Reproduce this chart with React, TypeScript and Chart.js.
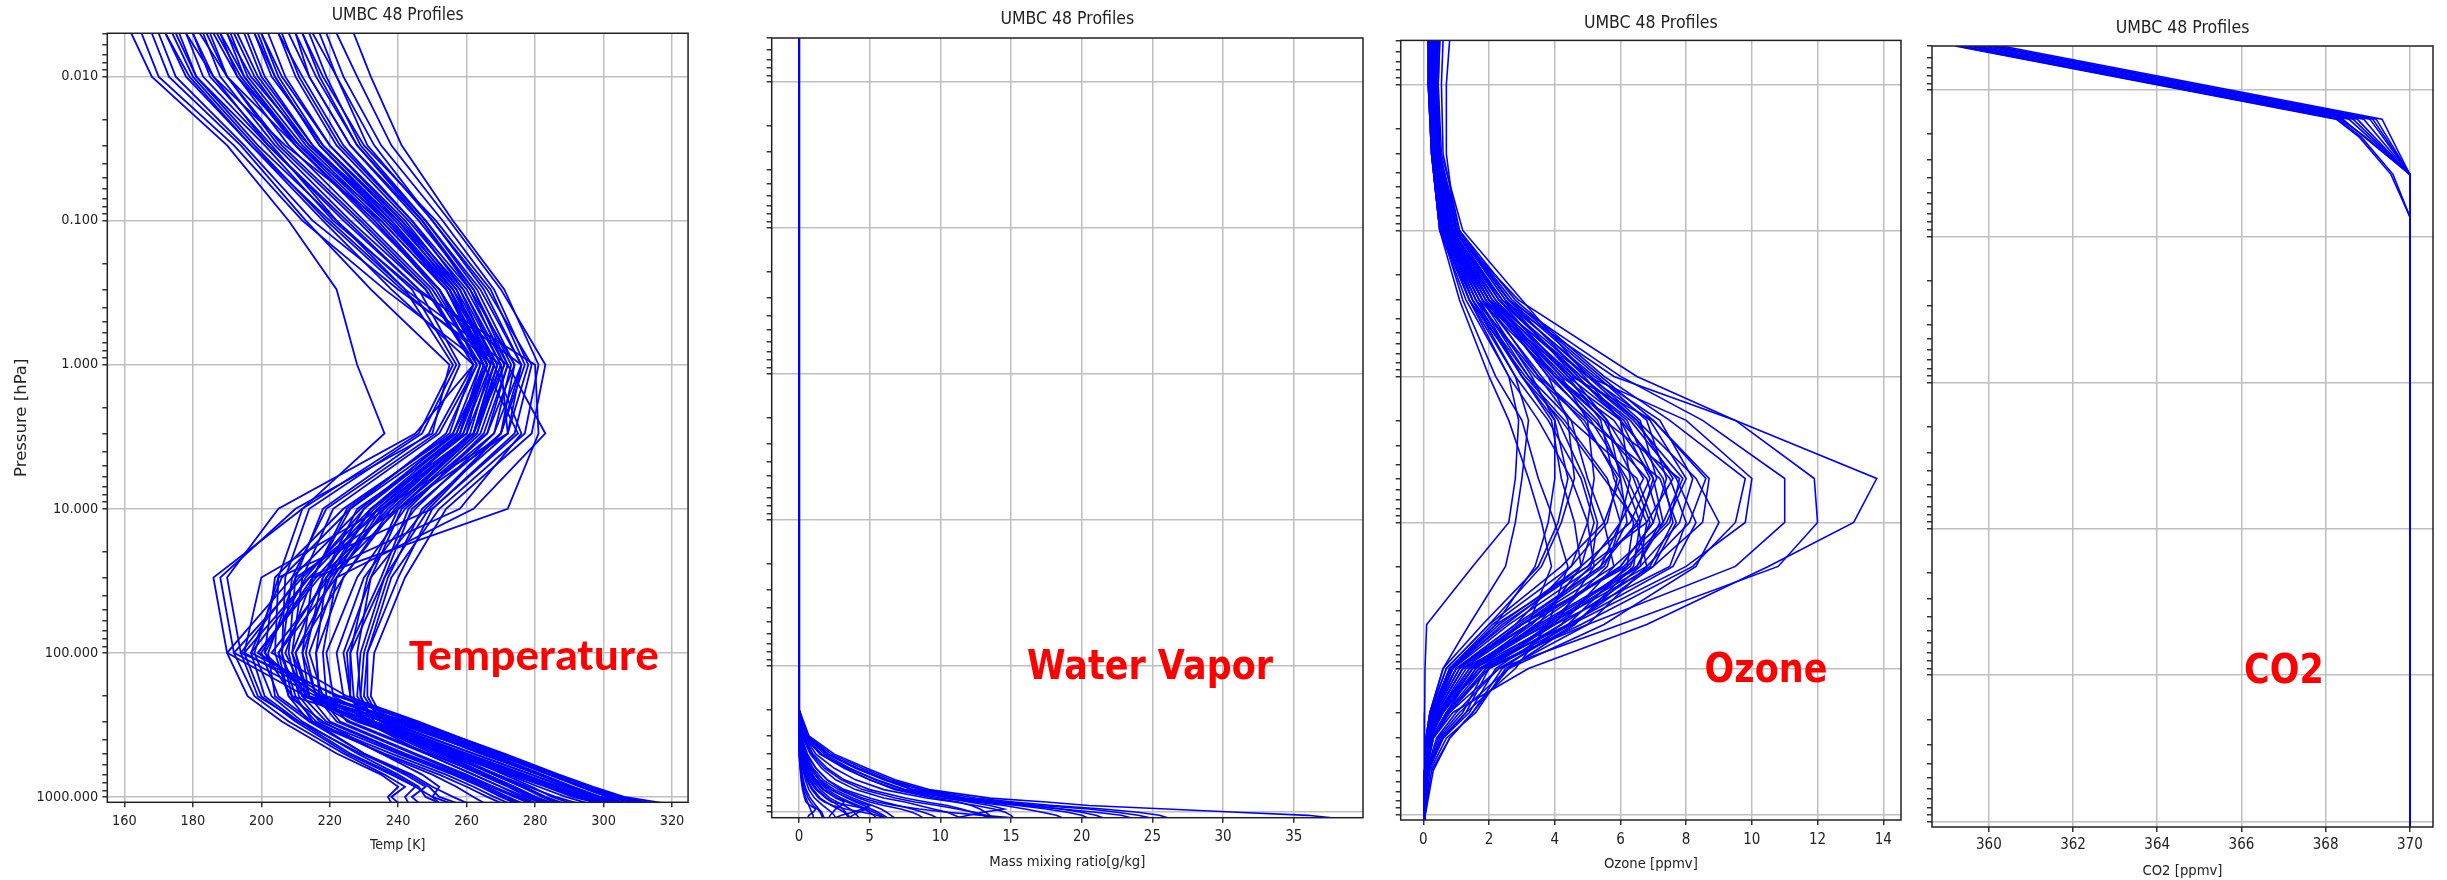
import React, { useEffect, useRef } from 'react';
import { Chart, registerables } from 'chart.js';

Chart.register(...registerables);

// ---------------- DATA ----------------
const chartTitle = 'UMBC 48 Profiles';
const panelNames = ['Temperature', 'Water Vapor', 'Ozone', 'CO2'];
const xAxisLabels = ['Temp [K]', 'Mass mixing ratio[g/kg]', 'Ozone [ppmv]', 'CO2 [ppmv]'];
const yAxisLabel = 'Pressure [hPa]';

const pressureMin = 0.005;
const pressureMax = 1090;
const majorPressureTicks = [0.01, 0.1, 1, 10, 100, 1000];
const majorPressureLabels = ['0.010', '0.100', '1.000', '10.000', '100.000', '1000.000'];
const minorMultipliers = [1, 2, 3, 4, 5, 6, 7, 8, 9];
const tickDecades = [-3, -2, -1, 0, 1, 2, 3];

// Temperature [K]
const tempLevels = [0.005, 0.01, 0.03, 0.1, 0.3, 1, 3, 10, 30, 100, 200, 300, 500, 700, 850, 1000, 1100];
const tempProfiles = [
  [195, 200, 215, 238, 255, 266, 258, 232, 212, 192, 216, 242, 268, 284, 293, 301, 309],
  [182, 190, 210, 233, 252, 263, 254, 226, 206, 197, 222, 244, 270, 285, 294, 302, 310],
  [200, 206, 220, 242, 258, 268, 262, 238, 217, 199, 219, 241, 267, 282, 291, 299, 306],
  [178, 186, 207, 235, 254, 265, 257, 229, 209, 190, 213, 238, 265, 281, 290, 298, 305],
  [210, 214, 226, 247, 261, 271, 264, 240, 220, 203, 225, 246, 270, 286, 296, 305, 314],
  [190, 197, 214, 240, 256, 267, 259, 233, 214, 195, 218, 240, 268, 285, 295, 304, 313],
  [198, 203, 218, 241, 257, 266, 256, 224, 204, 201, 214, 239, 266, 282, 291, 299, 307],
  [186, 193, 211, 237, 255, 265, 258, 236, 211, 194, 223, 245, 271, 287, 297, 306, 317],
  [200, 205, 218, 240, 258, 270, 262, 235, 222, 214, 218, 232, 258, 275, 285, 293, 300],
  [192, 198, 213, 236, 255, 268, 260, 228, 218, 209, 214, 229, 256, 273, 283, 291, 298],
  [205, 210, 222, 243, 260, 272, 266, 242, 228, 219, 221, 235, 260, 277, 287, 295, 302],
  [212, 217, 228, 247, 262, 273, 268, 245, 230, 222, 224, 237, 262, 279, 289, 297, 304],
  [188, 195, 211, 234, 252, 266, 257, 226, 215, 207, 213, 228, 255, 272, 281, 289, 295],
  [198, 204, 217, 238, 256, 269, 263, 238, 224, 216, 217, 233, 259, 276, 286, 294, 301],
  [217, 222, 231, 250, 265, 276, 270, 248, 232, 224, 226, 240, 264, 281, 290, 296, 303],
  [202, 207, 220, 241, 259, 271, 262, 232, 220, 212, 216, 231, 257, 274, 284, 292, 299],
  [185, 190, 205, 228, 248, 262, 255, 225, 215, 212, 214, 220, 242, 258, 266, 272, 276],
  [180, 186, 202, 225, 246, 258, 249, 218, 210, 208, 211, 217, 240, 256, 264, 270, 274],
  [190, 195, 210, 232, 252, 265, 260, 232, 219, 216, 217, 223, 245, 260, 268, 275, 279],
  [175, 181, 199, 222, 244, 257, 247, 214, 207, 206, 210, 215, 238, 254, 262, 268, 272],
  [196, 201, 215, 237, 256, 268, 262, 236, 222, 218, 219, 225, 248, 262, 270, 277, 282],
  [183, 188, 204, 226, 248, 263, 252, 221, 212, 209, 212, 219, 241, 257, 265, 271, 275],
  [188, 193, 208, 230, 250, 264, 258, 230, 218, 213, 216, 222, 244, 259, 267, 274, 278],
  [172, 179, 197, 220, 242, 256, 246, 212, 205, 204, 208, 214, 236, 252, 260, 266, 270],
  [170, 175, 195, 215, 240, 270, 272, 235, 200, 195, 200, 210, 225, 238, 245, 250, 255],
  [165, 170, 192, 212, 236, 265, 275, 250, 205, 198, 203, 212, 228, 240, 246, 248, 252],
  [176, 181, 201, 221, 245, 280, 281, 272, 215, 200, 205, 215, 230, 242, 248, 244, 246],
  [168, 173, 194, 213, 232, 255, 250, 210, 188, 192, 198, 208, 224, 236, 242, 238, 240],
  [172, 178, 197, 218, 238, 262, 245, 205, 190, 194, 199, 211, 226, 239, 245, 242, 243],
  [180, 185, 203, 222, 242, 272, 283, 262, 222, 205, 208, 218, 235, 247, 252, 250, 252],
  [162, 168, 190, 208, 222, 228, 236, 212, 186, 190, 196, 206, 222, 235, 240, 237, 238],
  [178, 183, 202, 224, 246, 276, 272, 240, 210, 202, 204, 214, 230, 244, 250, 256, 260],
  [210, 216, 228, 248, 264, 276, 268, 241, 232, 228, 229, 232, 252, 266, 274, 280, 284],
  [215, 222, 233, 250, 266, 279, 274, 250, 240, 231, 230, 235, 254, 268, 276, 282, 286],
  [222, 228, 238, 255, 270, 283, 279, 254, 242, 233, 232, 236, 257, 271, 279, 285, 290],
  [205, 212, 224, 244, 261, 274, 266, 240, 231, 226, 227, 230, 250, 264, 272, 278, 282],
  [212, 218, 230, 251, 267, 277, 270, 244, 236, 229, 228, 233, 253, 266, 274, 280, 284],
  [227, 232, 241, 256, 271, 281, 277, 252, 238, 231, 231, 235, 255, 269, 277, 283, 287],
  [208, 214, 226, 246, 262, 272, 265, 243, 235, 225, 226, 230, 248, 262, 270, 276, 280],
  [219, 224, 235, 253, 268, 278, 272, 247, 237, 230, 229, 233, 254, 268, 276, 283, 288],
  [193, 199, 214, 237, 254, 267, 261, 237, 219, 205, 212, 236, 262, 279, 288, 296, 303],
  [187, 194, 210, 233, 251, 264, 256, 230, 213, 201, 209, 233, 260, 277, 286, 293, 299],
  [206, 211, 223, 244, 259, 270, 263, 239, 224, 210, 214, 230, 253, 269, 278, 286, 292],
  [174, 180, 198, 219, 241, 268, 276, 258, 214, 197, 201, 211, 229, 243, 249, 252, 257],
  [199, 204, 217, 239, 257, 269, 262, 234, 221, 210, 213, 226, 249, 265, 273, 280, 285],
  [184, 190, 206, 229, 249, 262, 251, 219, 209, 206, 209, 216, 235, 250, 257, 262, 265],
  [214, 219, 229, 248, 263, 274, 270, 249, 236, 226, 226, 231, 251, 265, 273, 279, 283],
  [191, 196, 212, 235, 254, 266, 259, 234, 216, 199, 217, 243, 269, 284, 294, 303, 311],
];

// Water vapour mass mixing ratio [g/kg]
const wvLevels = [0.005, 50, 100, 200, 300, 400, 500, 600, 700, 800, 850, 900, 950, 1000, 1050, 1100];
const wvProfiles = [
  [0.003, 0.003, 0.004, 0.06, 0.7, 2.5, 4.8, 6.8, 9.2, 13.5, 17.5, 20.5, 26, 31, 36, 38],
  [0.003, 0.003, 0.004, 0.05, 0.6, 2.3, 4.5, 6.5, 8.8, 12.5, 15.2, 18, 21.5, 24, 25.5, 26.2],
  [0.003, 0.003, 0.004, 0.04, 0.5, 2.0, 4.0, 6.0, 8.0, 11.5, 14, 16.5, 18.5, 20, 21, 21.6],
  [0.003, 0.003, 0.004, 0.04, 0.4, 1.5, 3.2, 5.0, 7.0, 10, 12.5, 14.5, 16, 17.2, 18.2, 18.7],
  [0.003, 0.003, 0.004, 0.03, 0.35, 1.2, 2.5, 4.0, 6.0, 9.0, 11, 12.5, 13.8, 14.6, 15, 15.2],
  [0.003, 0.003, 0.004, 0.03, 0.3, 1.0, 2.0, 3.2, 5.0, 7.5, 9.0, 10.5, 11.5, 12.3, 13, 13.5],
  [0.002, 0.002, 0.003, 0.02, 0.2, 0.8, 1.6, 2.6, 4.0, 6.0, 7.5, 8.5, 9.5, 10.5, 11, 11.5],
  [0.002, 0.002, 0.003, 0.02, 0.15, 0.6, 1.2, 2.0, 3.2, 5.0, 6.0, 7.0, 8.0, 8.8, 9.4, 9.8],
  [0.002, 0.002, 0.003, 0.01, 0.1, 0.4, 0.9, 1.5, 2.5, 3.8, 4.5, 5.2, 5.8, 6.2, 6.5, 6.8],
  [0.002, 0.002, 0.003, 0.01, 0.08, 0.3, 0.7, 1.2, 2.0, 3.0, 3.6, 4.2, 4.8, 5.3, 5.8, 6.1],
  [0.002, 0.002, 0.003, 0.01, 0.06, 0.2, 0.5, 0.9, 1.5, 2.2, 2.7, 3.2, 3.6, 3.9, 4.1, 4.3],
  [0.002, 0.002, 0.003, 0.008, 0.05, 0.15, 0.35, 0.6, 1.0, 1.5, 1.9, 2.3, 2.8, 3.2, 3.5, 3.6],
  [0.002, 0.002, 0.003, 0.006, 0.04, 0.1, 0.25, 0.45, 0.7, 1.1, 1.4, 1.7, 2.0, 2.3, 2.5, 2.6],
  [0.002, 0.002, 0.003, 0.005, 0.03, 0.08, 0.18, 0.3, 0.5, 0.8, 1.0, 1.2, 1.4, 1.6, 1.7, 1.8],
  [0.002, 0.002, 0.003, 0.004, 0.02, 0.05, 0.1, 0.2, 0.3, 0.5, 0.6, 0.7, 0.8, 0.9, 1.0, 1.0],
  [0.002, 0.002, 0.003, 0.003, 0.015, 0.04, 0.08, 0.15, 0.25, 0.4, 0.5, 0.8, 1.2, 1.0, 0.7, 0.6],
  [0.002, 0.002, 0.003, 0.006, 0.05, 0.2, 0.6, 1.2, 2.2, 3.5, 4.2, 5.0, 4.5, 3.8, 3.0, 2.5],
  [0.002, 0.002, 0.003, 0.01, 0.1, 0.5, 1.2, 2.0, 3.0, 4.5, 5.5, 6.8, 8.5, 10.5, 13, 15.5],
  [0.003, 0.003, 0.004, 0.02, 0.3, 1.5, 3.5, 5.5, 7.5, 10.5, 12, 13.5, 14.5, 13, 12, 11],
  [0.003, 0.003, 0.004, 0.03, 0.45, 2.0, 4.2, 6.2, 8.6, 11.8, 14.5, 17, 20.5, 22.5, 24, 25],
  [0.002, 0.002, 0.003, 0.008, 0.07, 0.25, 0.6, 1.0, 1.7, 2.6, 3.2, 3.0, 2.6, 2.4, 2.2, 2.1],
  [0.002, 0.002, 0.003, 0.005, 0.04, 0.12, 0.3, 0.55, 0.9, 1.4, 1.8, 2.4, 3.3, 4.5, 5.5, 6.2],
  [0.003, 0.003, 0.004, 0.04, 0.45, 1.8, 3.6, 5.4, 7.4, 10.8, 13, 15.5, 17.5, 19, 20, 20.5],
  [0.002, 0.002, 0.003, 0.015, 0.12, 0.45, 1.0, 1.7, 2.8, 4.2, 5.0, 6.0, 7.2, 8.0, 8.5, 8.8],
  [0.002, 0.002, 0.003, 0.008, 0.06, 0.2, 0.45, 0.8, 1.3, 2.0, 2.4, 2.8, 3.1, 3.3, 3.4, 3.5],
  [0.003, 0.003, 0.004, 0.025, 0.25, 0.9, 1.8, 3.0, 4.5, 6.8, 8.2, 9.8, 11.2, 12.4, 13.2, 13.8],
  [0.002, 0.002, 0.003, 0.004, 0.025, 0.07, 0.15, 0.25, 0.4, 0.65, 0.8, 1.0, 1.3, 1.5, 1.6, 1.7],
  [0.003, 0.003, 0.004, 0.035, 0.4, 1.6, 3.3, 5.0, 6.8, 9.5, 11.3, 12.2, 12.8, 13.2, 13.5, 13.7],
  [0.002, 0.002, 0.003, 0.012, 0.1, 0.35, 0.8, 1.4, 2.3, 3.4, 4.0, 4.6, 5.1, 5.6, 6.0, 6.3],
  [0.002, 0.002, 0.003, 0.006, 0.05, 0.18, 0.4, 0.7, 1.2, 1.9, 2.3, 3.6, 4.8, 4.2, 3.8, 3.5],
  [0.003, 0.003, 0.004, 0.045, 0.55, 2.1, 4.1, 6.1, 8.1, 11.2, 13.5, 15.8, 18.6, 21.0, 22.8, 23.6],
  [0.002, 0.002, 0.003, 0.01, 0.09, 0.3, 0.65, 1.1, 1.8, 2.8, 3.4, 4.0, 4.6, 5.0, 5.3, 5.5],
];

// Ozone [ppmv]
const o3Levels = [0.005, 0.01, 0.03, 0.1, 0.3, 1, 2, 5, 10, 20, 50, 100, 200, 300, 500, 1000, 1100];
const o3Profiles = [
  [0.3, 0.3, 0.4, 0.9, 2.9, 6.5, 9.5, 13.8, 13.1, 10.5, 6.8, 3.2, 0.9, 0.3, 0.1, 0.04, 0.03],
  [0.25, 0.25, 0.35, 0.8, 2.4, 5.8, 9.5, 11.9, 12.0, 10.8, 6.0, 2.3, 0.8, 0.3, 0.08, 0.04, 0.03],
  [0.35, 0.3, 0.45, 1.0, 2.6, 6.0, 8.5, 11.0, 11.0, 9.5, 5.0, 1.8, 0.5, 0.15, 0.06, 0.03, 0.03],
  [0.2, 0.2, 0.3, 0.7, 2.0, 5.0, 8.0, 10.0, 9.8, 8.0, 4.5, 1.5, 0.5, 0.15, 0.06, 0.03, 0.03],
  [0.4, 0.35, 0.5, 1.1, 2.8, 5.5, 7.5, 9.8, 9.5, 8.2, 4.8, 2.0, 0.7, 0.25, 0.08, 0.04, 0.03],
  [0.15, 0.2, 0.3, 0.6, 1.8, 4.5, 7.0, 8.7, 8.5, 7.0, 3.8, 1.2, 0.4, 0.12, 0.05, 0.03, 0.03],
  [0.5, 0.45, 0.55, 1.2, 3.0, 5.0, 6.5, 8.3, 9.0, 8.3, 5.5, 2.6, 1.5, 0.8, 0.25, 0.05, 0.04],
  [0.3, 0.3, 0.4, 0.8, 2.2, 4.0, 5.5, 7.8, 7.5, 6.2, 3.0, 1.0, 0.3, 0.1, 0.05, 0.03, 0.03],
  [0.2, 0.2, 0.3, 0.6, 1.6, 3.5, 5.0, 7.2, 7.7, 7.0, 4.5, 2.0, 0.8, 0.3, 0.08, 0.04, 0.03],
  [0.25, 0.25, 0.35, 0.7, 1.9, 4.2, 6.0, 7.5, 8.0, 7.5, 4.0, 1.5, 0.5, 0.18, 0.06, 0.03, 0.03],
  [0.45, 0.4, 0.5, 1.0, 2.5, 4.6, 6.2, 7.0, 7.3, 6.5, 3.5, 1.3, 0.45, 0.15, 0.06, 0.03, 0.03],
  [0.3, 0.25, 0.35, 0.7, 2.0, 3.8, 5.2, 6.8, 7.2, 6.5, 4.0, 1.8, 0.7, 0.25, 0.07, 0.04, 0.03],
  [0.15, 0.15, 0.25, 0.5, 1.5, 3.2, 4.5, 6.5, 7.0, 6.0, 3.2, 1.0, 0.35, 0.12, 0.05, 0.03, 0.02],
  [0.35, 0.3, 0.4, 0.9, 2.3, 4.8, 6.5, 7.6, 6.8, 5.0, 2.2, 0.8, 0.25, 0.1, 0.05, 0.03, 0.03],
  [0.2, 0.2, 0.3, 0.6, 1.7, 3.0, 4.2, 5.5, 6.5, 6.8, 5.0, 2.5, 1.6, 0.7, 0.2, 0.05, 0.04],
  [0.25, 0.25, 0.35, 0.7, 1.8, 3.6, 4.8, 6.0, 6.2, 5.5, 3.0, 1.2, 0.4, 0.15, 0.06, 0.03, 0.03],
  [0.4, 0.35, 0.45, 0.9, 2.1, 4.2, 5.0, 5.2, 5.0, 4.5, 2.8, 1.0, 0.3, 0.1, 0.05, 0.03, 0.02],
  [0.3, 0.3, 0.4, 0.8, 1.9, 3.5, 4.5, 5.0, 5.5, 5.8, 4.2, 2.2, 1.4, 0.6, 0.15, 0.04, 0.03],
  [0.2, 0.2, 0.3, 0.55, 1.4, 2.8, 3.8, 4.8, 5.2, 4.8, 2.5, 0.8, 0.25, 0.1, 0.05, 0.03, 0.02],
  [0.15, 0.15, 0.25, 0.5, 1.3, 2.6, 3.5, 4.5, 5.0, 5.2, 4.0, 1.9, 1.2, 0.5, 0.12, 0.04, 0.03],
  [0.3, 0.3, 0.4, 0.8, 2.0, 3.8, 4.4, 4.6, 4.2, 3.6, 2.0, 0.7, 0.2, 0.08, 0.04, 0.03, 0.02],
  [0.25, 0.25, 0.35, 0.65, 1.6, 3.0, 3.9, 4.2, 4.6, 4.8, 3.5, 1.5, 0.6, 0.2, 0.06, 0.03, 0.03],
  [0.35, 0.3, 0.4, 0.8, 1.8, 3.3, 4.0, 4.0, 3.8, 3.4, 2.2, 0.9, 0.3, 0.1, 0.05, 0.03, 0.02],
  [0.2, 0.2, 0.3, 0.55, 1.2, 2.2, 3.0, 3.5, 4.0, 4.4, 3.8, 2.0, 1.3, 0.55, 0.14, 0.04, 0.03],
  [0.3, 0.25, 0.35, 0.7, 1.5, 2.8, 3.2, 3.0, 2.8, 2.5, 1.4, 0.6, 0.2, 0.08, 0.04, 0.03, 0.02],
  [0.2, 0.2, 0.3, 0.6, 1.4, 2.6, 2.9, 2.8, 2.6, 1.5, 0.1, 0.05, 0.04, 0.04, 0.03, 0.03, 0.02],
  [0.15, 0.15, 0.25, 0.5, 1.1, 2.0, 2.6, 3.2, 3.6, 3.9, 3.2, 1.6, 0.7, 0.25, 0.07, 0.04, 0.03],
  [0.4, 0.35, 0.45, 0.9, 2.2, 4.5, 5.6, 6.0, 5.5, 4.2, 2.0, 0.7, 0.22, 0.09, 0.05, 0.03, 0.02],
  [0.25, 0.25, 0.35, 0.75, 2.1, 4.8, 6.4, 7.9, 7.3, 5.8, 3.0, 1.1, 0.35, 0.12, 0.05, 0.03, 0.03],
  [0.3, 0.3, 0.4, 0.85, 2.4, 5.2, 7.2, 8.2, 7.8, 6.6, 3.6, 1.4, 0.45, 0.15, 0.06, 0.03, 0.03],
  [0.2, 0.2, 0.3, 0.6, 1.7, 4.0, 5.8, 7.0, 6.6, 5.2, 2.6, 0.9, 0.3, 0.1, 0.05, 0.03, 0.02],
  [0.45, 0.4, 0.5, 1.0, 2.6, 5.3, 6.8, 7.4, 7.0, 6.0, 3.4, 1.6, 0.6, 0.2, 0.06, 0.03, 0.03],
  [0.35, 0.3, 0.4, 0.8, 2.0, 4.3, 5.6, 6.7, 6.0, 5.0, 2.4, 0.9, 0.3, 0.1, 0.05, 0.03, 0.02],
  [0.6, 0.55, 0.6, 1.1, 2.6, 4.9, 6.0, 6.3, 6.0, 5.6, 3.8, 2.8, 1.3, 0.6, 0.15, 0.04, 0.03],
  [0.8, 0.7, 0.7, 1.0, 2.3, 4.4, 5.4, 5.8, 6.4, 6.2, 4.4, 2.4, 1.5, 0.8, 0.3, 0.06, 0.04],
  [0.25, 0.2, 0.3, 0.6, 1.6, 3.4, 4.9, 5.9, 5.6, 4.5, 2.1, 0.8, 0.25, 0.1, 0.05, 0.03, 0.02],
  [0.3, 0.3, 0.4, 0.85, 2.3, 5.0, 6.9, 8.0, 7.4, 6.1, 3.2, 1.2, 0.4, 0.13, 0.05, 0.03, 0.02],
  [0.2, 0.2, 0.3, 0.65, 1.8, 4.1, 5.5, 6.4, 6.9, 6.3, 3.9, 1.7, 0.6, 0.2, 0.06, 0.03, 0.03],
  [0.4, 0.35, 0.45, 0.95, 2.4, 4.7, 6.0, 6.9, 6.3, 4.8, 2.3, 0.85, 0.28, 0.1, 0.05, 0.03, 0.02],
  [0.25, 0.25, 0.35, 0.7, 1.9, 3.9, 5.1, 6.2, 6.8, 6.6, 4.6, 2.3, 1.0, 0.4, 0.1, 0.04, 0.03],
  [0.35, 0.3, 0.4, 0.8, 2.1, 4.4, 6.1, 7.3, 7.6, 6.9, 4.2, 1.9, 0.75, 0.3, 0.08, 0.04, 0.03],
  [0.15, 0.15, 0.25, 0.5, 1.4, 3.1, 4.3, 5.6, 6.0, 5.4, 2.9, 1.1, 0.35, 0.12, 0.05, 0.03, 0.02],
  [0.5, 0.45, 0.5, 1.05, 2.7, 5.4, 7.0, 8.6, 8.1, 6.8, 3.7, 1.5, 0.5, 0.18, 0.06, 0.03, 0.03],
  [0.3, 0.25, 0.35, 0.7, 1.7, 3.2, 4.1, 4.9, 5.3, 5.1, 3.3, 1.4, 0.5, 0.18, 0.06, 0.03, 0.02],
  [0.2, 0.2, 0.3, 0.6, 1.5, 3.0, 4.0, 4.4, 4.1, 3.5, 1.8, 0.6, 0.2, 0.08, 0.04, 0.03, 0.02],
  [0.45, 0.4, 0.5, 1.0, 2.5, 5.1, 6.6, 7.1, 6.5, 5.4, 2.8, 1.0, 0.3, 0.1, 0.05, 0.03, 0.02],
  [0.3, 0.3, 0.4, 0.8, 2.0, 4.0, 5.3, 6.1, 6.6, 6.4, 4.6, 2.6, 1.1, 0.45, 0.12, 0.04, 0.03],
  [0.25, 0.25, 0.35, 0.75, 2.0, 4.6, 6.3, 7.7, 8.3, 7.6, 4.4, 1.7, 0.55, 0.2, 0.06, 0.03, 0.03],
];

// CO2 [ppmv]  (null = level not present in that profile)
const co2Levels = [0.005, 0.0158, 0.021, 0.0377, 0.0734, 1100];
const co2Profiles = [
  [359.2, 368.25, 368.8, 369.55, 370.0, 370.0],
  [359.25, 368.3, 368.85, 369.6, 370.0, 370.0],
  [359.35, 368.4, null, 370.0, null, 370.0],
  [359.5, 368.55, null, 370.0, null, 370.0],
  [359.7, 368.75, null, 370.0, null, 370.0],
  [359.85, 368.9, null, 370.0, null, 370.0],
  [360.0, 369.05, null, 370.0, null, 370.0],
  [360.15, 369.2, null, 370.0, null, 370.0],
  [360.3, 369.34, null, 370.0, null, 370.0],
  [359.3, 368.35, 368.95, 370.0, null, 370.0],
  [359.6, 368.65, null, 370.0, null, 370.0],
  [360.08, 369.12, null, 370.0, null, 370.0],
];

// ---------------- STYLE / LAYOUT ----------------
const LINE_BLUE = '#0000ff';
const GRID_GRAY = '#bfbfbf';
const AXIS_DARK = '#222222';
const NOTE_RED = '#ff0000';
const COND = "'DejaVu Sans Condensed', 'DejaVu Sans', sans-serif";
const DEJAVU = "'DejaVu Sans', sans-serif";

type Panel = {
  left: number; width: number; padRight: number; yWidth: number;
  titleFont: any; titlePadTop: number; titlePadBottom: number;
  xMin: number; xMax: number; xStep: number;
  tickFont: any; xTickPad: number; xAxisHeight: number; xTitleFont: any; xTitlePadBottom: number;
  showYLabels: boolean; lineWidth: number;
  noteX: number; noteBaseline: number; noteFont: string; noteScaleY: number;
  levels: number[]; profiles: (number | null)[][];
};

const panels: Panel[] = [
  {
    left: 0, width: 690, padRight: 1.7, yWidth: 107.3,
    titleFont: { family: COND, size: 17.3, weight: 'normal' }, titlePadTop: 5.6, titlePadBottom: 6.9,
    xMin: 155.0, xMax: 324.7, xStep: 20,
    tickFont: { family: COND, size: 14.4 }, xTickPad: 5.6, xAxisHeight: 77.7,
    xTitleFont: { family: COND, size: 14 }, xTitlePadBottom: 26.6,
    showYLabels: true, lineWidth: 1.8,
    noteX: 534, noteBaseline: 670, noteFont: "bold 47px Carlito, 'Open Sans', sans-serif", noteScaleY: 0.95,
    levels: tempLevels, profiles: tempProfiles,
  },
  {
    left: 750, width: 620, padRight: 7, yWidth: 21.7,
    titleFont: { family: COND, size: 17.5, weight: 'normal' }, titlePadTop: 9.2, titlePadBottom: 7.8,
    xMin: -1.93, xMax: 39.9, xStep: 5,
    tickFont: { family: COND, size: 15 }, xTickPad: 5.6, xAxisHeight: 62.3,
    xTitleFont: { family: COND, size: 14.7 }, xTitlePadBottom: 9.2,
    showYLabels: false, lineWidth: 1.6,
    noteX: 400, noteBaseline: 679, noteFont: "bold 35px 'DejaVu Sans', sans-serif", noteScaleY: 1.15,
    levels: wvLevels, profiles: wvProfiles,
  },
  {
    left: 1380, width: 530, padRight: 9, yWidth: 20.7,
    titleFont: { family: COND, size: 17.5, weight: 'normal' }, titlePadTop: 13.1, titlePadBottom: 6.3,
    xMin: -0.69, xMax: 14.54, xStep: 2,
    tickFont: { family: COND, size: 15 }, xTickPad: 6, xAxisHeight: 60,
    xTitleFont: { family: COND, size: 14.7 }, xTitlePadBottom: 7.2,
    showYLabels: false, lineWidth: 1.6,
    noteX: 386, noteBaseline: 682, noteFont: "bold 35px 'DejaVu Sans', sans-serif", noteScaleY: 1.15,
    levels: o3Levels, profiles: o3Profiles,
  },
  {
    left: 1915, width: 532, padRight: 14, yWidth: 17,
    titleFont: { family: COND, size: 17.5, weight: 'normal' }, titlePadTop: 17.5, titlePadBottom: 7.5,
    xMin: 358.65, xMax: 370.55, xStep: 2,
    tickFont: { family: COND, size: 15 }, xTickPad: 4.5, xAxisHeight: 53,
    xTitleFont: { family: COND, size: 14.7 }, xTitlePadBottom: 0.2,
    showYLabels: false, lineWidth: 1.6,
    noteX: 369, noteBaseline: 683, noteFont: "bold 35px 'DejaVu Sans', sans-serif", noteScaleY: 1.15,
    levels: co2Levels, profiles: co2Profiles,
  },
];

const pressureTickValues: number[] = [];
tickDecades.forEach((e) => {
  minorMultipliers.forEach((m) => {
    const v = parseFloat((m * Math.pow(10, e)).toPrecision(6));
    if (v >= pressureMin - 1e-12 && v <= pressureMax) pressureTickValues.push(v);
  });
});

const majorIndex = (v: number) =>
  majorPressureTicks.findIndex((t) => Math.abs(t - v) / t < 1e-6);

function buildDatasets(levels: number[], profiles: (number | null)[][], width: number) {
  return profiles.map((prof, i) => ({
    label: `profile ${i + 1}`,
    data: prof
      .map((v, k) => (v === null ? null : { x: v, y: levels[k] }))
      .filter((pt) => pt !== null),
    showLine: true,
    borderColor: LINE_BLUE,
    backgroundColor: LINE_BLUE,
    borderWidth: width,
    pointRadius: 0,
    pointHoverRadius: 0,
    fill: false,
    tension: 0,
  }));
}

function makeConfig(p: Panel, idx: number): any {
  const framePlugin = {
    id: 'frameAndNote' + idx,
    afterDraw(chart: any) {
      const { ctx, chartArea } = chart;
      ctx.save();
      ctx.strokeStyle = AXIS_DARK;
      ctx.lineWidth = 1.5;
      ctx.strokeRect(chartArea.left, chartArea.top, chartArea.right - chartArea.left, chartArea.bottom - chartArea.top);
      ctx.fillStyle = NOTE_RED;
      ctx.font = p.noteFont;
      ctx.textAlign = 'center';
      ctx.textBaseline = 'alphabetic';
      ctx.translate(p.noteX, p.noteBaseline);
      ctx.scale(1, p.noteScaleY);
      ctx.fillText(panelNames[idx], 0, 0);
      ctx.restore();
    },
  };

  return {
    type: 'scatter',
    data: { datasets: buildDatasets(p.levels, p.profiles, p.lineWidth) },
    plugins: [framePlugin],
    options: {
      animation: false,
      responsive: false,
      maintainAspectRatio: false,
      events: [],
      layout: { padding: { left: 0, right: p.padRight, top: 0, bottom: 0 } },
      plugins: {
        legend: { display: false },
        tooltip: { enabled: false },
        title: {
          display: true,
          text: chartTitle,
          fullSize: false,
          color: AXIS_DARK,
          font: p.titleFont,
          padding: { top: p.titlePadTop, bottom: p.titlePadBottom },
        },
      },
      scales: {
        x: {
          type: 'linear',
          position: 'bottom',
          min: p.xMin,
          max: p.xMax,
          border: { display: false },
          grid: { color: GRID_GRAY, lineWidth: 1.5, tickColor: '#333', tickLength: 5, drawTicks: true },
          ticks: {
            stepSize: p.xStep,
            includeBounds: false,
            autoSkip: false,
            maxRotation: 0,
            padding: p.xTickPad,
            color: AXIS_DARK,
            font: p.tickFont,
          },
          title: {
            display: true,
            text: xAxisLabels[idx],
            color: AXIS_DARK,
            font: p.xTitleFont,
            padding: { top: 0, bottom: p.xTitlePadBottom },
          },
          afterFit: (s: any) => {
            s.height = p.xAxisHeight;
          },
        },
        y: {
          type: 'logarithmic',
          position: 'left',
          reverse: true,
          min: pressureMin,
          max: pressureMax,
          border: { display: false },
          afterBuildTicks: (s: any) => {
            s.ticks = pressureTickValues.map((v) => ({ value: v, major: majorIndex(v) >= 0 }));
          },
          grid: {
            color: (c: any) => (c.tick && majorIndex(c.tick.value) >= 0 ? GRID_GRAY : 'rgba(0,0,0,0)'),
            lineWidth: 1.5,
            tickColor: '#333',
            tickLength: 5,
            drawTicks: true,
          },
          ticks: {
            autoSkip: false,
            padding: 4,
            color: AXIS_DARK,
            font: p.tickFont,
            callback: (v: any) => {
              if (!p.showYLabels) return '';
              const i = majorIndex(Number(v));
              return i >= 0 ? majorPressureLabels[i] : '';
            },
          },
          title: {
            display: p.showYLabels,
            text: yAxisLabel,
            color: AXIS_DARK,
            font: { family: DEJAVU, size: 16.5 },
            padding: { top: 12.1, bottom: 0 },
          },
          afterFit: (s: any) => {
            s.width = p.yWidth;
          },
        },
      },
    },
  };
}

export default function App() {
  const refs = useRef<(HTMLCanvasElement | null)[]>([]);

  useEffect(() => {
    const charts: Chart[] = [];
    panels.forEach((p, i) => {
      const cv = refs.current[i];
      if (cv) charts.push(new Chart(cv, makeConfig(p, i)));
    });
    return () => charts.forEach((c) => c.destroy());
  }, []);

  return (
    <div
      style={{
        position: 'fixed',
        left: 0,
        top: 0,
        width: 2447,
        height: 880,
        background: '#ffffff',
        overflow: 'hidden',
      }}
    >
      {panels.map((p, i) => (
        <canvas
          key={i}
          ref={(el) => {
            refs.current[i] = el;
          }}
          width={p.width}
          height={880}
          style={{ position: 'absolute', left: p.left, top: 0, width: p.width, height: 880, display: 'block' }}
        />
      ))}
    </div>
  );
}
